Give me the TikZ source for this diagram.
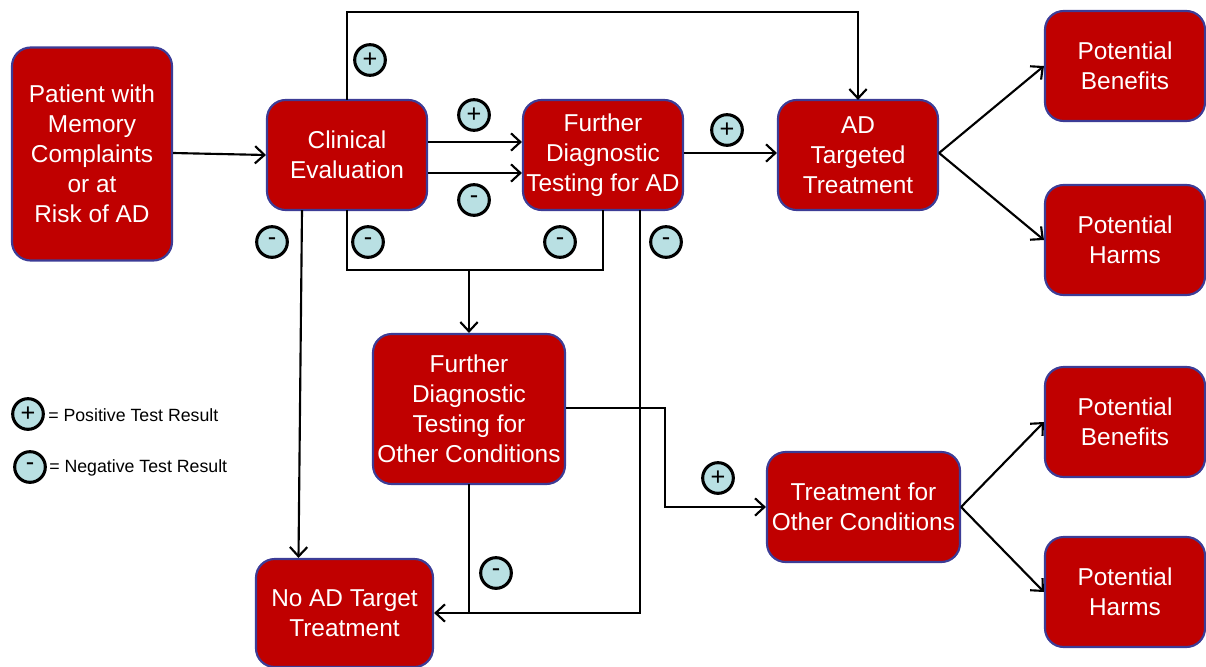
\documentclass[tikz,border=0pt]{standalone}
\usepackage{fontspec}
\setmainfont{Liberation Sans}
\usetikzlibrary{arrows.meta,calc}
\definecolor{boxred}{RGB}{192,0,0}
\definecolor{boxedge}{RGB}{60,60,150}
\definecolor{signfill}{RGB}{185,224,227}
\tikzset{
  box/.style={draw=boxedge, line width=1.6pt, fill=boxred, rounded corners=14pt,
    text=white, align=center, inner sep=0pt, minimum width=120pt, minimum height=82.5pt,
    font=\fontsize{18.3}{22.5}\selectfont},
  conn/.style={line width=1.6pt, black},
  arr/.style={conn, -{Straight Barb[length=7pt,width=13pt,line width=1.6pt]}},
  sign/.style={circle, draw=black, line width=2.3pt, fill=signfill, minimum size=23pt,
    inner sep=0pt, font=\fontsize{19}{19}\selectfont},
  legend/.style={anchor=west, inner sep=0pt, font=\fontsize{13.3}{15}\selectfont}
}
\begin{document}
\begin{tikzpicture}[x=0.75pt,y=-0.75pt]
\useasboundingbox (0,0) rectangle (1206,667);
\node[box, minimum height=159.75pt] (pat) at (92,154) {Patient with\\Memory\\Complaints\\or at\\Risk of AD};
\node[box] (clin) at (347,155) {Clinical\\Evaluation};
\node[box] (fdt) at (603,155) {Further\\Diagnostic\\Testing for AD};
\node[box] (adt) at (858,155) {AD\\Targeted\\Treatment};
\node[box] (pb1) at (1125,66) {Potential\\Benefits};
\node[box] (ph1) at (1125,240) {Potential\\Harms};
\node[box, minimum width=144pt, minimum height=112.5pt] (fdo) at (469,409) {Further\\Diagnostic\\Testing for\\Other Conditions};
\node[box, minimum width=144.75pt] (tfo) at (863.5,507) {Treatment for\\Other Conditions};
\node[box] (pb2) at (1125,422) {Potential\\Benefits};
\node[box] (ph2) at (1125,592) {Potential\\Harms};
\node[box, minimum width=132.75pt, minimum height=81pt] (noad) at (344.5,613) {No AD Target\\Treatment};

% connectors
\draw[arr] (pat.east |- 0,153) -- (clin.west |- 0,155);
\draw[arr] ($(clin.north)+(0,1)$) -- (clin.north |- 0,12) -| ($(adt.north)+(0,1)$);
\draw[arr] (clin.east |- 0,142) -- (fdt.west |- 0,142);
\draw[arr] (clin.east |- 0,173) -- (fdt.west |- 0,173);
\draw[arr] (fdt.east |- 0,153) -- (adt.west |- 0,153);
\draw[arr] (adt.east |- 0,153) -- (pb1.west);
\draw[arr] (adt.east |- 0,153) -- (ph1.west);
\draw[arr] ($(clin.south)+(-45,-1)$) -- ($(noad.north)+(-46,0)$);
\draw[conn] ($(clin.south)+(0,-1)$) |- (603,270) -- ($(fdt.south)+(0,-1)$);
\coordinate (j) at (469,270);
\draw[arr] (j) -- (fdo.north);
\draw[arr] ($(fdt.south)+(37,-1)$) |- (noad.east);
\draw[conn] ($(fdo.south)+(0,-1)$) -- (fdo.south |- noad.east);
\draw[arr] (fdo.east |- 0,408) -- (665,408) |- (tfo.west);
\draw[arr] (tfo.east) -- (pb2.west);
\draw[arr] (tfo.east) -- (ph2.west);

% signs
\node[sign] (s1) at (370,60) {+};
\node[sign] (s2) at (474,115) {+};
\node[sign] (s3) at (474,200) {-};
\node[sign] (s4) at (727,130) {+};
\node[sign] (s5) at (272,242) {-};
\node[sign] (s6) at (368,242) {-};
\node[sign] (s7) at (560,242) {-};
\node[sign] (s8) at (666,242) {-};
\node[sign] (s9) at (496,573) {-};
\node[sign] (s10) at (718,478) {+};

% legend
\node[sign] (lp) at (28,414) {+};
\node[legend] (lpt) at (48,415) {= Positive Test Result};
\node[sign] (ln) at (30,467) {-};
\node[legend] (lnt) at (49,468) {= Negative Test Result};
\end{tikzpicture}
\end{document}
